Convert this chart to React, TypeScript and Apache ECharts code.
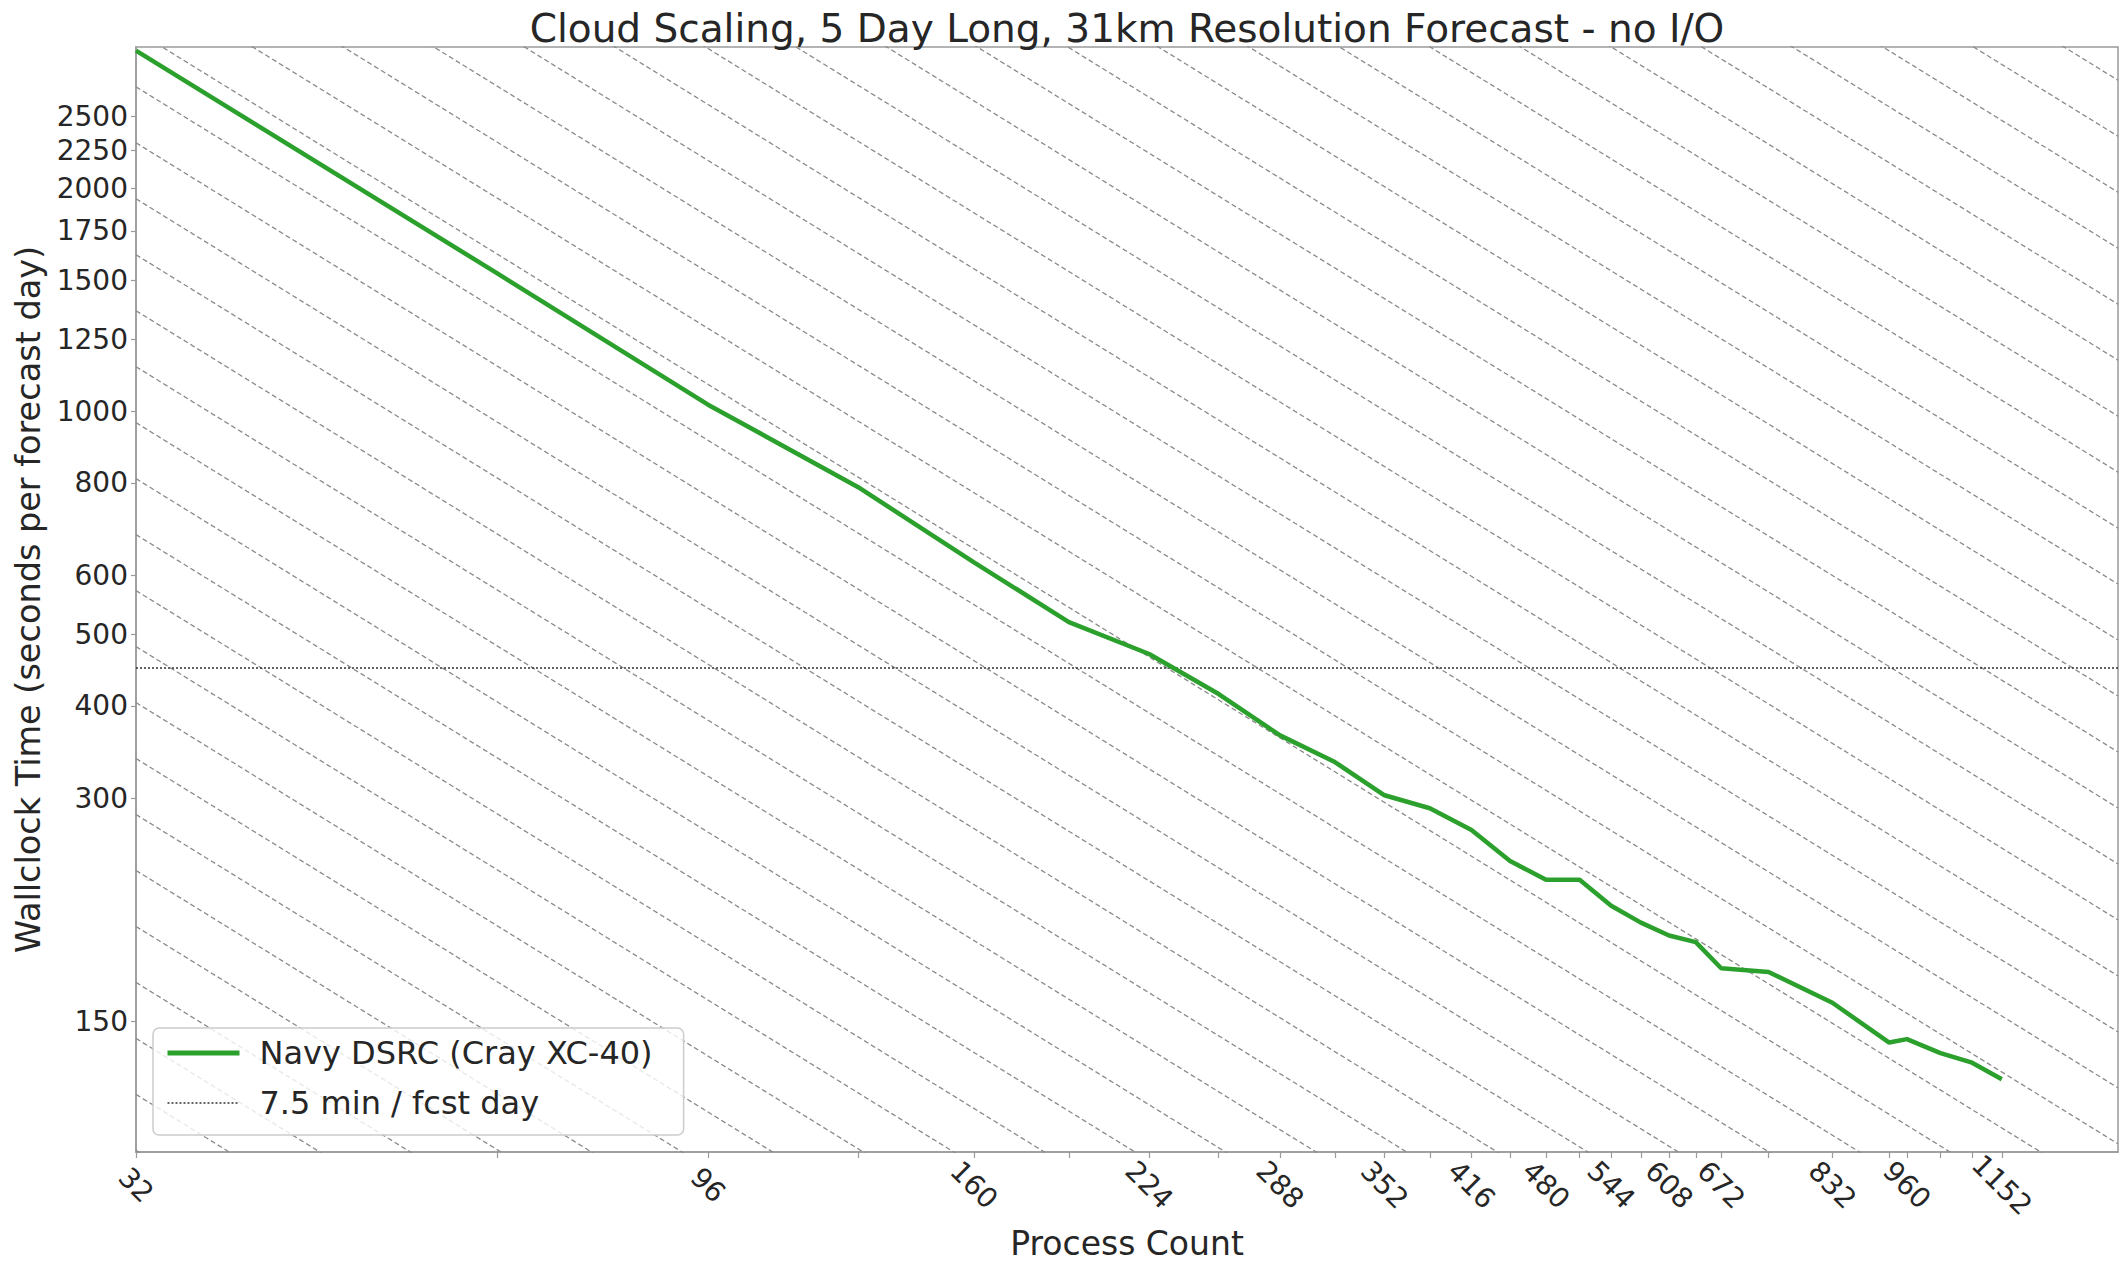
import React, { useEffect, useRef } from "react";
import * as echarts from "echarts";

// ---- data ----
const PROCESS_COUNTS = [32, 64, 96, 128, 160, 192, 224, 256, 288, 320, 352, 384, 416, 448, 480, 512, 544, 576, 608, 640, 672, 736, 832, 928, 960, 1024, 1088, 1152];
const WALLCLOCK_SECONDS = [3066, 1535, 1020, 790, 625, 519, 470, 415, 365, 336, 303, 291, 272, 247, 233, 233, 215, 204, 196, 192, 177, 175, 159, 140.5, 142, 136, 132, 125.4];

const X_TICK_LABELS = [32, 96, 160, 224, 288, 352, 416, 480, 544, 608, 672, 832, 960, 1152];
const X_TICK_MARKS = [32, 64, 96, 128, 160, 192, 224, 256, 288, 320, 352, 384, 416, 448, 480, 512, 544, 576, 608, 640, 672, 736, 832, 928, 960, 1024, 1088, 1152];
const Y_TICK_LABELS = [150, 300, 400, 500, 600, 800, 1000, 1250, 1500, 1750, 2000, 2250, 2500];

const X_RANGE = [32, 1440];
const Y_RANGE = [100, 3100];
const TARGET_SECONDS = 450; // 7.5 min per forecast day

// ideal-scaling guide lines (seconds * processes = constant)
const GUIDE_BASE = 15392;
const GUIDE_RATIO = 1.19;
const GUIDE_STEPS = [-9, 33];

const SERIES_NAME = "Navy DSRC (Cray XC-40)";
const TARGET_NAME = "7.5 min / fcst day";
const TITLE = "Cloud Scaling, 5 Day Long, 31km Resolution Forecast - no I/O";

const FONT = "DejaVu Sans";
const TEXT = "#262626";
const GREEN = "#2ca02c";

const ln = Math.log;
const fmt = (v: number) => String(Math.round(Math.exp(v)));

function buildOption() {
  const guides: any[] = [];
  for (let k = GUIDE_STEPS[0]; k <= GUIDE_STEPS[1]; k++) {
    const c = GUIDE_BASE * Math.pow(GUIDE_RATIO, k);
    guides.push({
      type: "line",
      name: "guide" + k,
      silent: true,
      symbol: "none",
      lineStyle: { color: "#8a8a8a", width: 1.3, type: [5, 3] },
      data: [
        [ln(X_RANGE[0]), ln(c / X_RANGE[0])],
        [ln(X_RANGE[1]), ln(c / X_RANGE[1])],
      ],
      z: 1,
    });
  }

  return {
    animation: false,
    backgroundColor: "#ffffff",
    textStyle: { fontFamily: FONT },
    title: {
      text: TITLE,
      left: 1122,
      top: 4,
      textAlign: "center",
      textStyle: { fontSize: 39, fontWeight: "normal", color: TEXT, fontFamily: FONT },
    },
    grid: {
      left: 136,
      right: 2,
      top: 47,
      bottom: 110,
      containLabel: false,
      outerBoundsMode: "none",
      show: true,
      borderColor: "#9a9a9a",
      borderWidth: 1.5,
      backgroundColor: "transparent",
    },
    legend: {
      left: 153,
      top: 1028,
      orient: "vertical",
      data: [
        { name: SERIES_NAME, itemStyle: { opacity: 0 }, lineStyle: { color: GREEN, width: 5, type: "solid" } },
        { name: TARGET_NAME, itemStyle: { opacity: 0 }, lineStyle: { color: "#333333", width: 1.6, type: [2, 2] } },
      ],
      itemWidth: 72,
      itemHeight: 20,
      itemGap: 14,
      padding: [7, 31, 14, 12],
      backgroundColor: "rgba(255,255,255,0.8)",
      borderColor: "#cccccc",
      borderWidth: 1.5,
      borderRadius: 6,
      textStyle: { fontSize: 32, fontFamily: FONT, color: TEXT, lineHeight: 36, padding: [0, 0, 0, 15] },
    },
    xAxis: {
      type: "value",
      min: ln(X_RANGE[0]),
      max: ln(X_RANGE[1]),
      name: "Process Count",
      nameLocation: "middle",
      nameGap: 73,
      nameTextStyle: { fontSize: 33, lineHeight: 33, color: TEXT, fontFamily: FONT },
      axisLine: { show: true, lineStyle: { color: "#9a9a9a", width: 1.5 } },
      axisTick: {
        show: true,
        inside: false,
        length: 6,
        customValues: X_TICK_MARKS.map(ln),
        lineStyle: { color: "#9a9a9a", width: 1.2 },
      },
      axisLabel: {
        customValues: X_TICK_LABELS.map(ln),
        formatter: fmt,
        rotate: -45,
        align: "center",
        verticalAlign: "middle",
        margin: 33,
        fontSize: 28,
        color: TEXT,
        fontFamily: FONT,
      },
      splitLine: { show: false },
    },
    yAxis: {
      type: "value",
      min: ln(Y_RANGE[0]),
      max: ln(Y_RANGE[1]),
      name: "Wallclock Time (seconds per forecast day)",
      nameLocation: "middle",
      nameGap: 72,
      nameTextStyle: { fontSize: 33.5, color: TEXT, fontFamily: FONT },
      axisLine: { show: true, lineStyle: { color: "#9a9a9a", width: 1.5 } },
      axisTick: {
        show: true,
        inside: false,
        length: 5,
        customValues: Y_TICK_LABELS.map(ln),
        lineStyle: { color: "#9a9a9a", width: 1.2 },
      },
      axisLabel: {
        customValues: Y_TICK_LABELS.map(ln),
        formatter: fmt,
        margin: 8,
        fontSize: 28,
        color: TEXT,
        fontFamily: FONT,
      },
      splitLine: { show: false },
    },
    series: [
      ...guides,
      {
        type: "line",
        name: TARGET_NAME,
        symbol: "none",
        silent: true,
        itemStyle: { color: "#333333" },
        lineStyle: { color: "#333333", width: 1.6, type: [2, 2] },
        data: [
          [ln(X_RANGE[0]), ln(TARGET_SECONDS)],
          [ln(X_RANGE[1]), ln(TARGET_SECONDS)],
        ],
        z: 2,
      },
      {
        type: "line",
        name: SERIES_NAME,
        symbol: "none",
        itemStyle: { color: GREEN },
        lineStyle: { color: GREEN, width: 4.5 },
        data: PROCESS_COUNTS.map((p, i) => [ln(p), ln(WALLCLOCK_SECONDS[i])]),
        z: 3,
      },
    ],
  };
}

export default function App() {
  const ref = useRef<HTMLDivElement>(null);
  useEffect(() => {
    if (!ref.current) return;
    const chart = echarts.init(ref.current, null, { renderer: "svg" });
    chart.setOption(buildOption() as any);
    return () => chart.dispose();
  }, []);
  return (
    <div
      ref={ref}
      style={{ position: "fixed", left: 0, top: 0, width: 2120, height: 1262, background: "#ffffff" }}
    />
  );
}
